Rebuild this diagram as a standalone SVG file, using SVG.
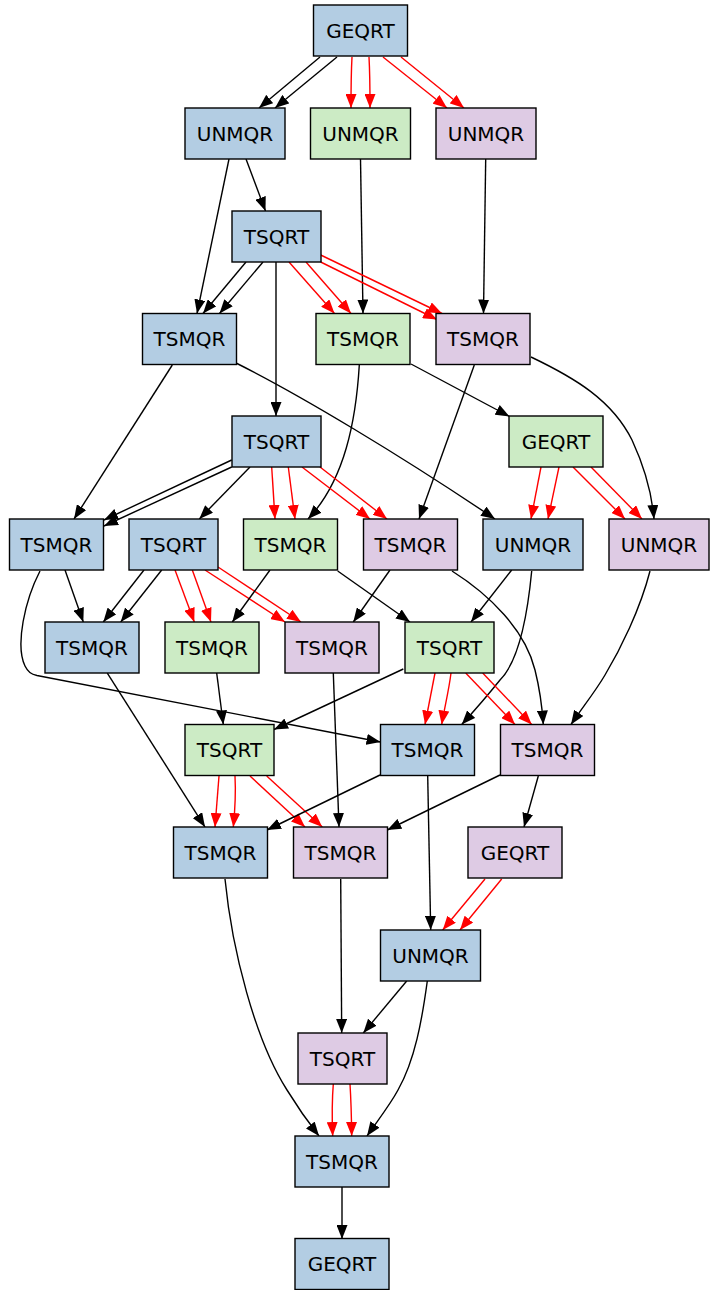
<svg xmlns="http://www.w3.org/2000/svg" width="710" height="1290" viewBox="0 0 710 1290">
<defs>
<style>
.n rect{stroke:#000;stroke-width:1.4}
.b rect{fill:#b3cde3}
.g rect{fill:#ccebc5}
.p rect{fill:#decbe4}
.n text{font-family:"DejaVu Sans","Liberation Sans",sans-serif;font-size:20px;text-anchor:middle;fill:#000}
.e path{fill:none;stroke-width:1.4}
.k{stroke:#000;marker-end:url(#ak)}
.r{stroke:#f00;marker-end:url(#ar)}
</style>
<marker id="ak" markerUnits="userSpaceOnUse" viewBox="0 0 14 11" markerWidth="14" markerHeight="11" refX="14" refY="5.5" orient="auto"><path d="M0,0 L14,5.5 L0,11 z" fill="#000"/></marker>
<marker id="ar" markerUnits="userSpaceOnUse" viewBox="0 0 14 11" markerWidth="14" markerHeight="11" refX="14" refY="5.5" orient="auto"><path d="M0,0 L14,5.5 L0,11 z" fill="#f00"/></marker>
</defs>
<rect width="710" height="1290" fill="#fff"/>
<g id="edges" class="e">
<path class="k" d="M320,57 L259,108"/>
<path class="k" d="M337,57 L275,108"/>
<path class="r" d="M352,57 C351,75 351,90 351,108"/>
<path class="r" d="M369,57 C370,75 370,90 370,108"/>
<path class="r" d="M383,57 L447,108"/>
<path class="r" d="M401,57 L464,108"/>
<path class="k" d="M246,159 L265.5,211"/>
<path class="k" d="M229,159 L197,313.5"/>
<path class="k" d="M360.5,159 L363,313.5"/>
<path class="k" d="M485.7,159 L483.5,313.5"/>
<path class="k" d="M246,262 L203,313.5"/>
<path class="k" d="M263,262 L219.5,313.5"/>
<path class="k" d="M276,262 L276,416"/>
<path class="r" d="M289,262 L334.5,313.5"/>
<path class="r" d="M306,262 L351,313.5"/>
<path class="r" d="M320.7,255 L442,313.5"/>
<path class="r" d="M320.7,262 L437,319.5"/>
<path class="k" d="M172.3,365 L74,519"/>
<path class="k" d="M236,363 C300,395 400,455 495,519"/>
<path class="k" d="M359.3,365 C356,420 345,480 308,519"/>
<path class="k" d="M411,364 L509.5,416.5"/>
<path class="k" d="M474.3,365 L419,519"/>
<path class="k" d="M531,357 C575,378 612,400 632,440 C645,468 652,495 654,519"/>
<path class="k" d="M231.7,460 L104,520"/>
<path class="k" d="M231.7,467 L104,526"/>
<path class="k" d="M250,467 L199.3,519"/>
<path class="r" d="M271.7,467 L275,519"/>
<path class="r" d="M288.3,467 L295,519"/>
<path class="r" d="M302,467 L370,519"/>
<path class="r" d="M320,467 L387,519"/>
<path class="r" d="M541,467 L531,519"/>
<path class="r" d="M559,467 L548,519"/>
<path class="r" d="M573,467 L625,519"/>
<path class="r" d="M591,467 L642,519"/>
<path class="k" d="M65,570 L83.3,622"/>
<path class="k" d="M40,571 C25,600 15,645 25,666 C28,672 31,674 37,675.5 L380.5,742"/>
<path class="k" d="M144,570 L103.3,622"/>
<path class="k" d="M161.7,570 L120.7,622"/>
<path class="r" d="M175,570 L194.3,622"/>
<path class="r" d="M192.3,570 L211,622"/>
<path class="r" d="M205,570 L285,622"/>
<path class="r" d="M218,567 L301,622"/>
<path class="k" d="M270,570 L232.3,622"/>
<path class="k" d="M337.7,571 L410,622"/>
<path class="k" d="M390,570 L353.3,622"/>
<path class="k" d="M452,571 C490,595 525,630 535,670 C540,690 542,705 543.3,724.5"/>
<path class="k" d="M511.7,570 L471,622"/>
<path class="k" d="M531.7,571 C528,610 520,660 500,680 C488,695 475,710 461.7,724.5"/>
<path class="k" d="M650,571 C640,610 620,650 605,675 C595,692 582,708 571,724.5"/>
<path class="k" d="M107.3,673 L205,827"/>
<path class="k" d="M216.7,673 L223.3,724.5"/>
<path class="k" d="M333.3,673 L339,827"/>
<path class="k" d="M403.3,669 L274,729.5"/>
<path class="r" d="M435,673 L425,724.5"/>
<path class="r" d="M451,673 C449,690 444,710 441.7,724.5"/>
<path class="r" d="M465.7,673 L515,724.5"/>
<path class="r" d="M482.7,673 L531.7,724.5"/>
<path class="r" d="M219,776 L215,827"/>
<path class="r" d="M235,776 C236,795 235,810 233.3,827"/>
<path class="r" d="M250,776 L305,827"/>
<path class="r" d="M266.7,776 L322.3,827"/>
<path class="k" d="M380,775 L267,830"/>
<path class="k" d="M427.7,776 L430.7,930"/>
<path class="k" d="M500,775 L387.3,830"/>
<path class="k" d="M538.3,776 L524,827"/>
<path class="k" d="M225,879 C232,950 255,1040 287,1090 C298,1108 308,1122 319,1136"/>
<path class="k" d="M340.7,879 L341.7,1033"/>
<path class="r" d="M485,879 L442.7,930"/>
<path class="r" d="M501.7,879 L460,930"/>
<path class="k" d="M406.7,981 L363.3,1033"/>
<path class="k" d="M427.3,981 C422,1020 415,1060 398,1090 C390,1105 378,1120 367,1136"/>
<path class="r" d="M333.3,1084 C332,1100 332,1118 332.7,1136"/>
<path class="r" d="M350,1084 C351,1100 351.5,1118 351.7,1136"/>
<path class="k" d="M342,1187 L342,1239"/>
</g>
<g id="n0" class="n b"><rect x="313.5" y="5" width="94" height="51"/><text x="360.5" y="37.5">GEQRT</text></g>
<g id="n1" class="n b"><rect x="185" y="108" width="100" height="51"/><text x="235" y="140.5">UNMQR</text></g>
<g id="n2" class="n g"><rect x="310.5" y="108" width="100" height="51"/><text x="360.5" y="140.5">UNMQR</text></g>
<g id="n3" class="n p"><rect x="436" y="108" width="100" height="51"/><text x="486" y="140.5">UNMQR</text></g>
<g id="n4" class="n b"><rect x="232" y="211" width="89" height="51"/><text x="276.5" y="243.5">TSQRT</text></g>
<g id="n5" class="n b"><rect x="142.5" y="313.5" width="94" height="51"/><text x="189.5" y="346">TSMQR</text></g>
<g id="n6" class="n g"><rect x="316" y="313.5" width="94" height="51"/><text x="363" y="346">TSMQR</text></g>
<g id="n7" class="n p"><rect x="436" y="313.5" width="94" height="51"/><text x="483" y="346">TSMQR</text></g>
<g id="n8" class="n b"><rect x="232" y="416" width="89" height="51"/><text x="276.5" y="448.5">TSQRT</text></g>
<g id="n9" class="n g"><rect x="509" y="416" width="94" height="51"/><text x="556" y="448.5">GEQRT</text></g>
<g id="n10" class="n b"><rect x="9.5" y="519" width="94" height="51"/><text x="56.5" y="551.5">TSMQR</text></g>
<g id="n11" class="n b"><rect x="129" y="519" width="89" height="51"/><text x="173.5" y="551.5">TSQRT</text></g>
<g id="n12" class="n g"><rect x="243.5" y="519" width="94" height="51"/><text x="290.5" y="551.5">TSMQR</text></g>
<g id="n13" class="n p"><rect x="363.5" y="519" width="94" height="51"/><text x="410.5" y="551.5">TSMQR</text></g>
<g id="n14" class="n b"><rect x="483" y="519" width="100" height="51"/><text x="533" y="551.5">UNMQR</text></g>
<g id="n15" class="n p"><rect x="609" y="519" width="100" height="51"/><text x="659" y="551.5">UNMQR</text></g>
<g id="n16" class="n b"><rect x="45" y="622" width="94" height="51"/><text x="92" y="654.5">TSMQR</text></g>
<g id="n17" class="n g"><rect x="165" y="622" width="94" height="51"/><text x="212" y="654.5">TSMQR</text></g>
<g id="n18" class="n p"><rect x="285" y="622" width="94" height="51"/><text x="332" y="654.5">TSMQR</text></g>
<g id="n19" class="n g"><rect x="405" y="622" width="89" height="51"/><text x="449.5" y="654.5">TSQRT</text></g>
<g id="n20" class="n g"><rect x="185" y="724.5" width="89" height="51"/><text x="229.5" y="757">TSQRT</text></g>
<g id="n21" class="n b"><rect x="380.5" y="724.5" width="94" height="51"/><text x="427.5" y="757">TSMQR</text></g>
<g id="n22" class="n p"><rect x="500.5" y="724.5" width="94" height="51"/><text x="547.5" y="757">TSMQR</text></g>
<g id="n23" class="n b"><rect x="173.5" y="827" width="94" height="51"/><text x="220.5" y="859.5">TSMQR</text></g>
<g id="n24" class="n p"><rect x="293.5" y="827" width="94" height="51"/><text x="340.5" y="859.5">TSMQR</text></g>
<g id="n25" class="n p"><rect x="468" y="827" width="94" height="51"/><text x="515" y="859.5">GEQRT</text></g>
<g id="n26" class="n b"><rect x="380.5" y="930" width="100" height="51"/><text x="430.5" y="962.5">UNMQR</text></g>
<g id="n27" class="n p"><rect x="298" y="1033" width="89" height="51"/><text x="342.5" y="1065.5">TSQRT</text></g>
<g id="n28" class="n b"><rect x="295" y="1136" width="94" height="51"/><text x="342" y="1168.5">TSMQR</text></g>
<g id="n29" class="n b"><rect x="295" y="1238.5" width="94" height="51"/><text x="342" y="1271">GEQRT</text></g>
</svg>
